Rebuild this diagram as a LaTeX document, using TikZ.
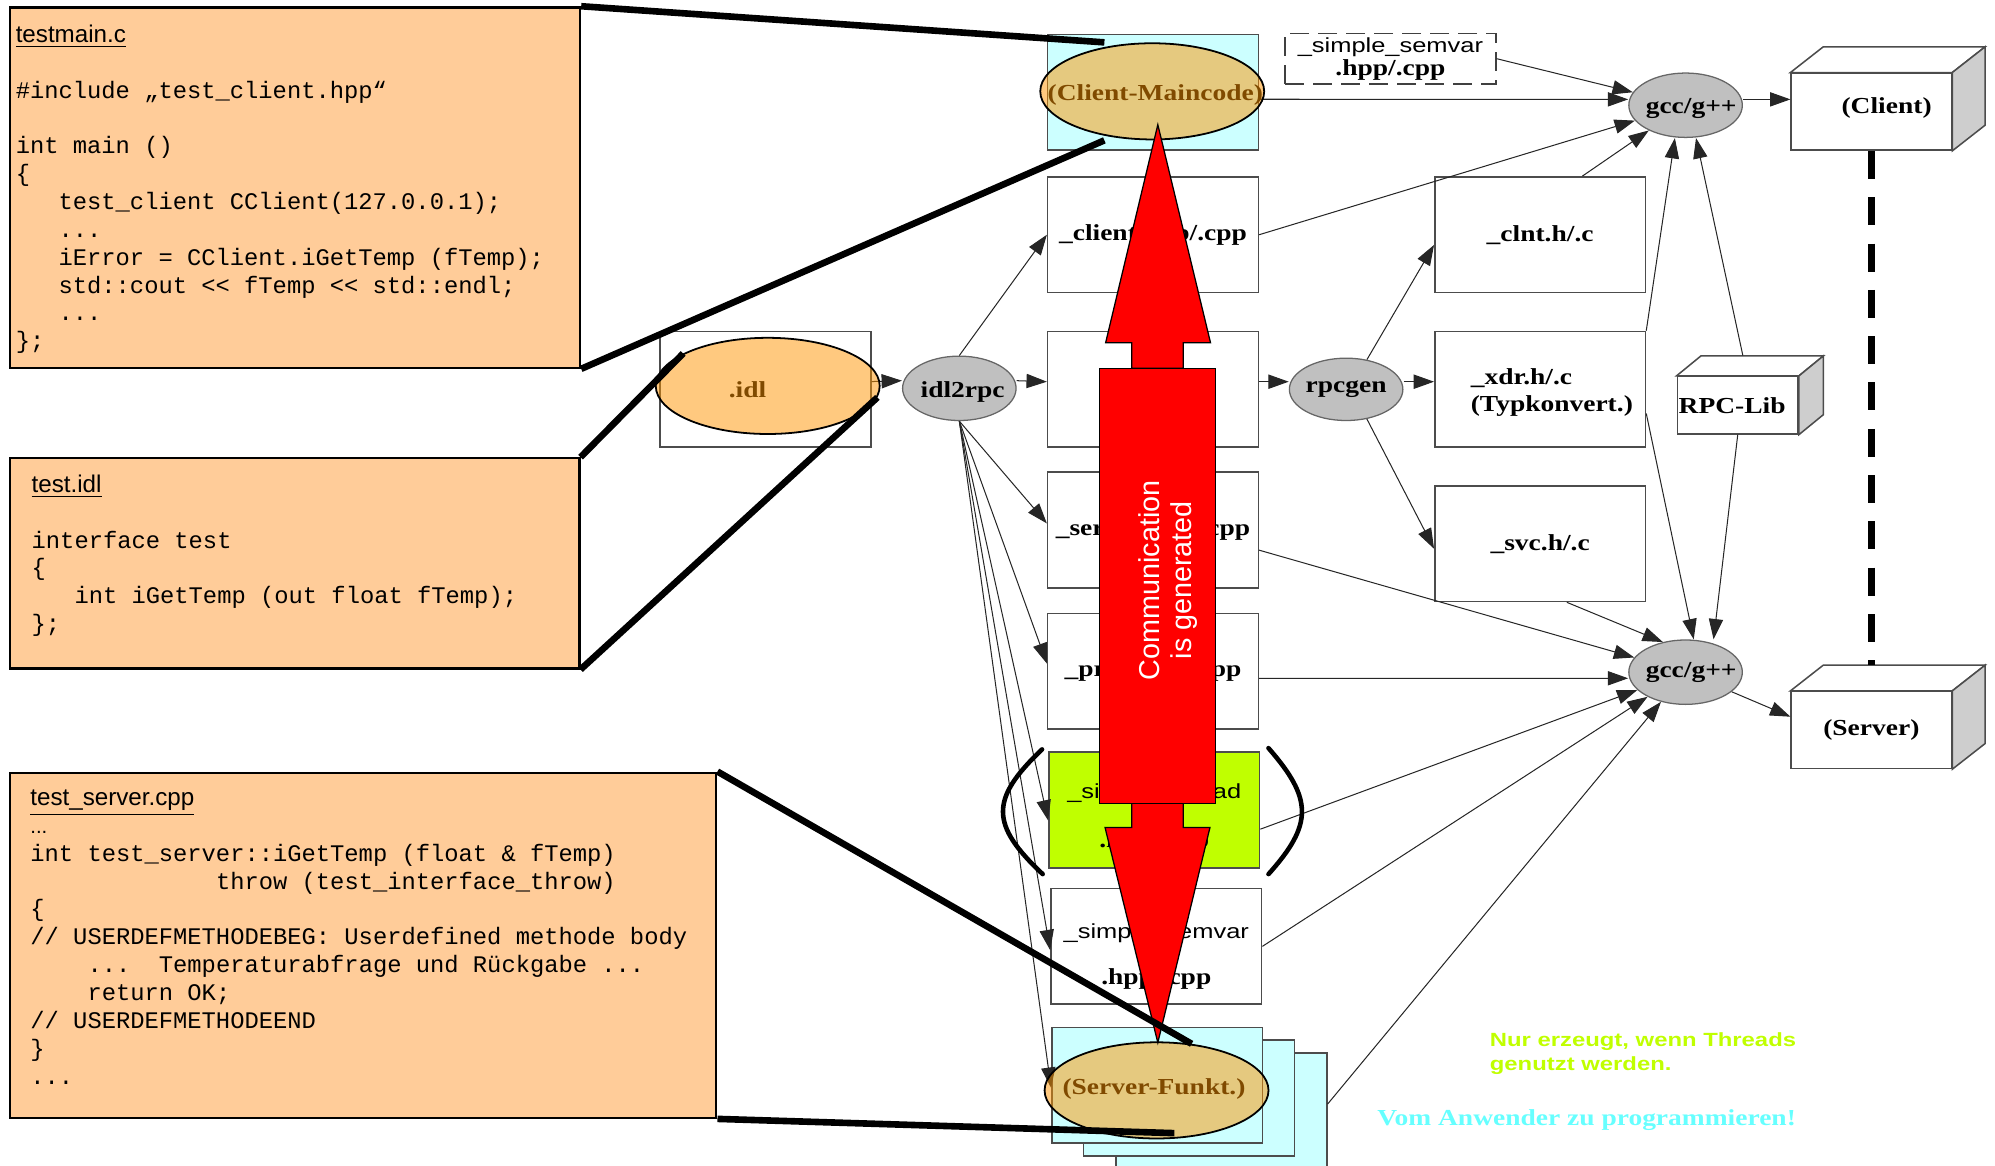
\documentclass[tikz,border=0pt]{standalone}
\usepackage{fontspec}
\setmainfont{Liberation Serif}
\newfontfamily\lblfont{Liberation Serif}[FakeStretch=1.2]
\newfontfamily\titlefont{Liberation Sans}
\newfontfamily\labelsans{Liberation Sans}[FakeStretch=1.25]
\newfontfamily\notesans{Liberation Sans}[FakeStretch=1.25]
\newfontfamily\codefont{Liberation Mono}
\usetikzlibrary{shapes.geometric, arrows.meta, fit, calc}

\definecolor{peach}{RGB}{255,204,153}
\definecolor{paleCyan}{RGB}{204,255,255}
\definecolor{limeGreen}{RGB}{192,255,0}
\definecolor{toolGray}{RGB}{192,192,192}
\definecolor{hullOrange}{RGB}{255,148,0}
\definecolor{sideGray}{RGB}{206,206,206}
\definecolor{noteCyan}{RGB}{102,255,255}

\tikzset{
  >={Triangle[length=8pt,width=5.6pt]},
  codebox/.style={draw=black, line width=0.9pt, fill=peach, inner sep=0pt},
  codetext/.style={anchor=north west, inner sep=0pt, align=left,
    font=\codefont\frenchspacing\fontsize{9.35}{10.95}\selectfont},
  filebox/.style={draw=black!70, line width=0.6pt, fill=white, minimum width=82.8pt,
    minimum height=45.5pt, inner sep=0pt, align=center,
    font=\lblfont\bfseries\fontsize{9}{10.5}\selectfont},
  twoline/.style={align=center, inner sep=0pt, font=\lblfont\bfseries\fontsize{9}{10.5}\selectfont},
  toolnode/.style={ellipse, draw=black!60, line width=0.5pt, fill=toolGray,
    minimum width=44.6pt, minimum height=25.3pt, inner sep=0pt},
  toollabel/.style={inner sep=0pt, font=\lblfont\bfseries\fontsize{9}{10.5}\selectfont},
  hull/.style={ellipse, draw=black, line width=0.7pt, fill=hullOrange, fill opacity=0.5,
    minimum width=88pt, minimum height=37.8pt, inner sep=0pt},
  hulltext/.style={inner sep=0pt, font=\lblfont\bfseries\fontsize{9}{10.5}\selectfont},
  cubeface/.style={draw=black!70, line width=0.6pt},
  flow/.style={->, draw=black!85, line width=0.4pt},
  callout/.style={line width=2.6pt},
  paren/.style={line width=1.8pt, line cap=round},
  bigarrow/.style={draw=black, line width=0.5pt, fill=red}
}

\begin{document}
\begin{tikzpicture}[x=0.5pt, y=-0.5pt]
\useasboundingbox (0,0) rectangle (1568,916);

% Quelltexte
\node[codebox, fit={(7.9,5.8) (455.9,289)}] (mainsrc) {};
\node[codetext] (maincode) at (12,19.1) {{\titlefont\fontsize{9.5}{10.95}\selectfont\underline{testmain.c}}\\
  \mbox{}\\
  \#include „test\_client.hpp“\\
  \mbox{}\\
  int main ()\\
  \{\\
  \hphantom{xxx}test\_client CClient(127.0.0.1);\\
  \hphantom{xxx}...\\
  \hphantom{xxx}iError = CClient.iGetTemp (fTemp);\\
  \hphantom{xxx}std::cout << fTemp << std::endl;\\
  \hphantom{xxx}...\\
  \};};

\node[codebox, fit={(7.9,360.2) (455.4,525.3)}] (idlsrc) {};
\node[codetext] (idlcode) at (24.5,372.8) {{\titlefont\fontsize{9.5}{10.95}\selectfont\underline{test.idl}}\\
  \mbox{}\\
  interface test\\
  \{\\
  \hphantom{xxx}int iGetTemp (out float fTemp);\\
  \};};

\node[codebox, fit={(7.9,607.3) (563,878.5)}] (srvsrc) {};
\node[codetext] (srvcode) at (23.5,620.4) {{\titlefont\fontsize{9.5}{10.95}\selectfont\underline{test\_server.cpp}}\\
  {\titlefont\fontsize{8}{10.95}\selectfont ...}\\
  int test\_server::iGetTemp (float \& fTemp)\\
  \hphantom{xxxxxxxxxxxxx}throw (test\_interface\_throw)\\
  \{\\
  // USERDEFMETHODEBEG: Userdefined methode body\\
  \hphantom{xxxx}...\hphantom{xx}Temperaturabfrage und Rückgabe ...\\
  \hphantom{xxxx}return OK;\\
  // USERDEFMETHODEEND\\
  \}\\
  ...};

% Spalte der erzeugten Dateien
\node[filebox] (idlbox) at (601.6,305.9) {};
\node[filebox, fill=paleCyan] (cmbox) at (906.2,72.5) {};
\node[filebox] (cltcpp) at (906.2,184.5) {\_client.hpp/.cpp};
\node[filebox] (xfile) at (906.2,306) {};
\node[filebox] (srvcpp) at (906.2,416.6) {\_server.hpp/.cpp};
\node[filebox] (proc) at (906.2,527.5) {\_proc.hpp/.cpp};
\node[filebox, fill=limeGreen, label={[twoline, yshift=-3.2pt]center:{{\labelsans\mdseries\fontsize{8}{10}\selectfont\_simple\_thread}\\[9pt].hpp/.cpp}}] (thread) at (907.2,636.5) {};
\node[filebox, label={[twoline, yshift=-4pt]center:{{\labelsans\mdseries\fontsize{8}{10}\selectfont\_simple\_semvar}\\[7.5pt].hpp/.cpp}}] (semvar) at (908.8,743.8) {};
\node[filebox, fill=paleCyan] (srvback) at (960,873) {};
\node[filebox, fill=paleCyan] (srvmid) at (934.5,863) {};
\node[filebox, fill=paleCyan] (srvfront) at (909.5,853) {};

% rechte Seite
\node[filebox, minimum height=19.9pt, draw=black!75, dash pattern=on 7.5pt off 3.5pt] (semhdr) at (1092.8,46.1) {{\labelsans\mdseries\fontsize{8}{10}\selectfont\_simple\_semvar}\\[-1.4pt].hpp/.cpp};
\node[filebox] (clnt) at (1210.5,184.5) {\_clnt.h/.c};
\node[filebox, label={[twoline, align=left, xshift=4.6pt, yshift=-1.2pt]center:{\_xdr.h/.c\\(Typkonvert.)}}] (xdr) at (1210.5,306) {};
\node[filebox] (svc) at (1210.5,427.3) {\_svc.h/.c};

% Würfel
\node[filebox, minimum width=63pt, minimum height=30.2pt, label={[toollabel, xshift=6pt, yshift=1.3pt]center:(Client)}] (client) at (1470.8,87.8) {};
\node[filebox, minimum width=63pt, minimum height=30.2pt] (server) at (1470.8,573.8) {(Server)};
\node[filebox, minimum width=47.5pt, minimum height=22.5pt, label={[toollabel, xshift=-2.2pt]center:RPC-Lib}] (rpclib) at (1365.8,318.5) {};
\foreach \cube/\dx/\dy in {client/25.8/20.2, server/25.8/20.2, rpclib/19.2/15.7} {
  \draw[cubeface, fill=white] (\cube.north west) -- ++(\dx,-\dy) -- ($(\cube.north east)+(\dx,-\dy)$) -- (\cube.north east) -- cycle;
  \draw[cubeface, fill=sideGray] (\cube.north east) -- ++(\dx,-\dy) -- ($(\cube.south east)+(\dx,-\dy)$) -- (\cube.south east) -- cycle;
}
\coordinate (rpclibtop) at ([xshift=2pt, yshift=8pt]rpclib.north);

% Werkzeuge
\node[toolnode, label={[toollabel, xshift=1.3pt, yshift=-1.3pt]center:idl2rpc}] (idl2rpc) at (754,305.2) {};
\node[toolnode, minimum height=24.5pt, label={[toollabel]center:rpcgen}] (rpcgen) at (1058,306) {};
\node[toolnode, label={[toollabel, xshift=2.2pt, yshift=-1.2pt]center:gcc/g++}] (gcctop) at (1324.8,82.7) {};
\node[toolnode, label={[toollabel, xshift=2.2pt]center:gcc/g++}] (gcclow) at (1324.8,528.3) {};

% Pfeile
\draw[flow] ([yshift=3pt]idlbox.east) -- ([yshift=3pt]idl2rpc.west);
\draw[flow] ([yshift=3pt]idl2rpc.east) -- ([yshift=3pt]xfile.west);
\draw[flow] ([yshift=3pt]xfile.east) -- ([yshift=3pt]rpcgen.west);
\draw[flow] ([yshift=3pt]rpcgen.east) -- ([yshift=3pt]xdr.west);
\draw[flow] (idl2rpc.north) -- (cltcpp.west);
\foreach \dest/\dy in {srvcpp/2.6, proc/3, thread/-4.2, semvar/-1.5, srvfront/-1}
  \draw[flow] (idl2rpc.south) -- ([yshift=\dy pt]\dest.west);
\draw[flow] (rpcgen.55) -- ([yshift=-4pt]clnt.west);
\draw[flow] (rpcgen.-55) -- ([yshift=-2pt]svc.west);

\draw[flow] ([yshift=-2.75pt]cmbox.east) -- ([yshift=2.3pt]gcctop.west);
\draw[flow] (semhdr.east) -- (gcctop);
\draw[flow] (cltcpp.east) -- (gcctop);
\draw[flow] ([xshift=16.6pt]clnt.north) -- (gcctop);
\draw[flow] (xdr.north east) -- ([xshift=-4.2pt]gcctop.south);
\draw[flow] (rpclibtop) -- ([xshift=4.1pt]gcctop.south);
\draw[flow] ([yshift=2.3pt]gcctop.east) -- ([yshift=4.85pt]client.west);

\draw[flow] ([yshift=-9.5pt]xdr.east) -- ([xshift=3.2pt]gcclow.north);
\draw[flow] (rpclib.south) -- ([xshift=11pt]gcclow.north);
\draw[flow] ([xshift=10.5pt]svc.south) -- (gcclow.127);
\draw[flow] ([yshift=-7.9pt]srvcpp.east) -- (gcclow);
\draw[flow] ([yshift=-2.8pt]proc.east) -- ([yshift=-2.4pt]gcclow.west);
\draw[flow] ([yshift=-7.6pt]thread.east) -- (gcclow);
\draw[flow] (semvar.east) -- (gcclow);
\draw[flow] ([yshift=2.6pt]srvback.east) -- (gcclow);
\draw[flow] (gcclow) -- ([yshift=5.25pt]server.west);

% Verbindung Client - Server
\draw[line width=2.6pt, dash pattern=on 11pt off 7.2pt] (client.south) -- ([yshift=10.1pt]server.north);

% halbtransparente Ellipsen
\node[hulltext] (cmaintxt) at (908,74.7) {(Client-Maincode)};
\node[hull] (cmain) at (905.6,71.8) {};
\node[hulltext] (idltxt) at (587.5,306.5) {.idl};
\node[hull] (idl) at (603.4,303.3) {};
\node[hulltext] (srvfunktxt) at (907,856.2) {(Server-Funkt.)};
\node[hull] (srvfunk) at (909,857) {};

% roter Doppelpfeil
\filldraw[bigarrow] (910,98) -- (951.4,269.3) -- (930,269.3) -- (930,289.5) -- (889.5,289.5) -- (889.5,269.3) -- (869,269.3) -- cycle;
\filldraw[bigarrow] (889.5,631.4) -- (930,631.4) -- (930,650.3) -- (951,650.3) -- (910,819.5) -- (868.5,650.3) -- (889.5,650.3) -- cycle;
\node[bigarrow, minimum width=45.8pt, minimum height=171pt, inner sep=0pt] (commbar) at (909.8,460.5) {};
\node[rotate=90, text=white, align=center, inner sep=0pt, font=\titlefont\fontsize{11.3}{12.5}\selectfont] (commtext) at (918,456) {Communication\\is generated};

% Klammern
\draw[paren] (819,589) .. controls (778,628) and (778,648) .. (819.5,687);
\draw[paren] (997,588) .. controls (1032,628) and (1032,648) .. (997,687);

% Hinweislinien
\coordinate (srvend) at (923,890.6);
\draw[callout] (mainsrc.north east) -- ([xshift=-18.8pt]cmain.north);
\draw[callout] (mainsrc.south east) -- ([xshift=-18.8pt]cmain.south);
\draw[callout] (idlsrc.north east) -- (idl.159);
\draw[callout] (idlsrc.south east) -- (idl.-6);
\draw[callout] (srvsrc.north east) -- (srvfunk.53);
\draw[callout] (srvsrc.south east) -- (srvend);

% Hinweise
\node[anchor=west, align=left, inner sep=0pt, text=limeGreen, font=\notesans\bfseries\fontsize{7.5}{9.2}\selectfont] (threadnote) at (1170.6,828) {Nur erzeugt, wenn Threads\\genutzt werden.};
\node[inner sep=0pt, text=noteCyan, font=\lblfont\bfseries\fontsize{9}{10.5}\selectfont] (usernote) at (1247,880) {Vom Anwender zu programmieren!};
\end{tikzpicture}
\end{document}
